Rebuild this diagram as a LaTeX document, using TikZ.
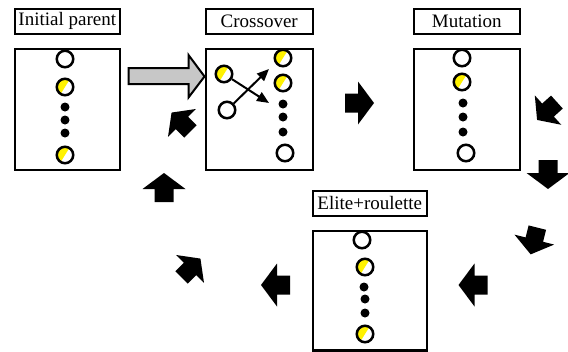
\documentclass[tikz,border=0pt]{standalone}
\usepackage{fontspec}
\setmainfont{Liberation Serif}
\usetikzlibrary{arrows.meta,calc}
\tikzset{
  lbl/.style={draw, line width=2.5pt, inner sep=0pt, minimum height=25pt,
    font=\fontsize{19}{20}\selectfont, anchor=north west},
  box/.style={draw, line width=2.5pt, inner sep=0pt, anchor=north west},
  wc/.style={circle, draw, line width=2.5pt, fill=white, minimum size=16.5pt, inner sep=0pt},
  yc/.style={wc, path picture={\fill[yellow] (path picture bounding box.center) ++(-58:12)
      arc[start angle=-58,end angle=-238,radius=12] -- cycle;}},
  bdot/.style={circle, fill=black, minimum size=9pt, inner sep=0pt},
  xarr/.style={line width=2pt, -{Triangle[length=12pt,width=10pt]}},
  grayarr/.style={draw, line width=2pt, fill=black!22, line join=miter},
  blk/.pic={\fill (-14.5,-9.5) -- (-1.5,-9.5) -- (-1.5,-21.5) -- (14.5,0)
      -- (-1.5,21.5) -- (-1.5,9.5) -- (-14.5,9.5) -- cycle;}
}
\begin{document}
\begin{tikzpicture}[x=1pt,y=-1pt]
\useasboundingbox (0,0) rectangle (568,351);
% labels
\node[lbl, minimum width=105pt] (lini) at (13.5,7.5) {Initial parent};
\node[lbl, minimum width=107pt] (lcro) at (204.5,7.5) {Crossover};
\node[lbl, minimum width=106pt] (lmut) at (412.5,7.5) {Mutation};
\node[lbl, minimum width=114pt] (leli) at (311.5,189.5) {Elite+roulette};
% boxes
\node[box, minimum width=105pt, minimum height=121pt] (bini) at (13.5,47.5) {};
\node[box, minimum width=107pt, minimum height=121pt] (bcro) at (204.5,47.5) {};
\node[box, minimum width=106pt, minimum height=121pt] (bmut) at (412.5,47.5) {};
\node[box, minimum width=114pt, minimum height=119.5pt] (beli) at (311.5,229.5) {};
% initial parent individuals
\node[wc] (i1) at (65,59) {};
\node[yc] (i2) at (65,87) {};
\node[bdot] (i3) at (65,107) {};
\node[bdot] (i4) at (65,120) {};
\node[bdot] (i5) at (65,133) {};
\node[yc] (i6) at (65,155) {};
% crossover
\node[yc] (cl1) at (224,74) {};
\node[wc] (cl2) at (227,110) {};
\node[yc] (c1) at (283,58) {};
\node[yc] (c2) at (283,83) {};
\node[bdot] (c3) at (283,104) {};
\node[bdot] (c4) at (283,117) {};
\node[bdot] (c5) at (283,132) {};
\node[wc] (c6) at (285,153) {};
\coordinate (x1) at (269,103);
\coordinate (x2) at (269,69);
\draw[xarr] (cl1) -- (x1);
\draw[xarr] (cl2) -- (x2);
% mutation
\node[wc] (m1) at (462,58) {};
\node[yc] (m2) at (462,82) {};
\node[bdot] (m3) at (463,103) {};
\node[bdot] (m4) at (463,117) {};
\node[bdot] (m5) at (463,132) {};
\node[wc] (m6) at (466,153) {};
% elite
\node[wc] (e1) at (362,240) {};
\node[yc] (e2) at (365,267) {};
\node[bdot] (e3) at (364,287) {};
\node[bdot] (e4) at (365,299) {};
\node[bdot] (e5) at (365,313) {};
\node[yc] (e6) at (365,334) {};
% gray arrow
\coordinate (gtail) at (128,76.5);
\draw[grayarr] (bcro.west |- gtail) -- ++(-16,-21.5) -- ++(0,13) -- ++(-60,0)
  -- ++(0,16) -- ++(60,0) -- ++(0,13.5) -- cycle;
% black cycle arrows
\pic at (359.5,103) {blk};
\pic[rotate=-138, scale=0.92] at (547,111) {blk};
\pic[rotate=-90] at (548,174.5) {blk};
\pic[rotate=-104, scale=0.95] at (534,241) {blk};
\pic[rotate=180] at (473,285) {blk};
\pic[rotate=180] at (275.5,285) {blk};
\pic[rotate=45, scale=0.92] at (191,268) {blk};
\pic[rotate=90] at (164,187.5) {blk};
\pic[rotate=135, scale=0.92] at (181,122) {blk};
\end{tikzpicture}
\end{document}
